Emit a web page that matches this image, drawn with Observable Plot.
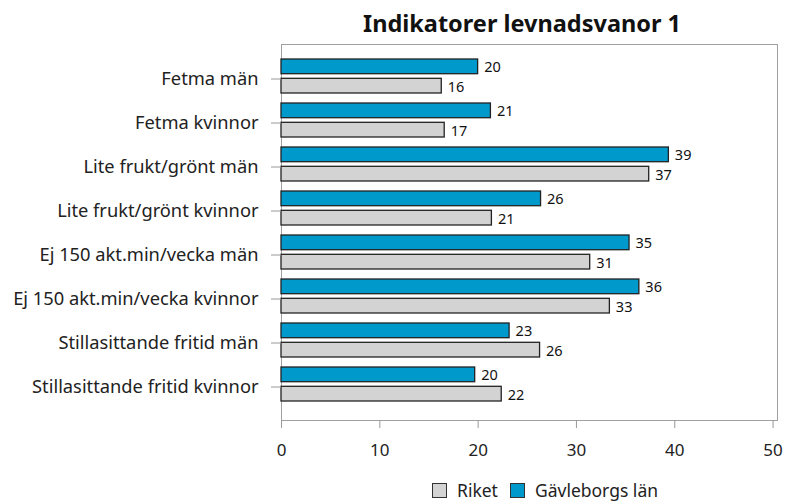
<!DOCTYPE html>
<html><head><meta charset="utf-8">
<script src="https://cdn.jsdelivr.net/npm/d3@7"></script>
<script src="https://cdn.jsdelivr.net/npm/@observablehq/plot@0.6"></script>
<style>
body{margin:0;background:#fff;font-family:"Noto Sans",sans-serif;}
#wrap{position:relative;width:785px;height:501px;overflow:hidden;}
#title{position:absolute;left:272px;width:500px;top:8px;text-align:center;font-weight:bold;font-size:23.5px;color:#111;line-height:30px;white-space:nowrap;}
#chart{position:absolute;left:0;top:36px;}
#legend{position:absolute;left:432px;top:477px;display:flex;align-items:center;font-size:17.5px;color:#222;line-height:26px;}
.sw{width:15px;height:15px;border:1.3px solid #333;box-sizing:border-box;margin-right:10px;}
</style></head><body>
<div id="wrap">
<div id="title">Indikatorer levnadsvanor 1</div>
<div id="chart"></div>
<div id="legend"></div>
</div>
<script>
const categories = ["Fetma män","Fetma kvinnor","Lite frukt/grönt män","Lite frukt/grönt kvinnor","Ej 150 akt.min/vecka män","Ej 150 akt.min/vecka kvinnor","Stillasittande fritid män","Stillasittande fritid kvinnor"];
const gavleborg = [20.0, 21.3, 39.4, 26.4, 35.4, 36.4, 23.2, 19.7];
const riket = [16.3, 16.6, 37.4, 21.4, 31.4, 33.4, 26.3, 22.4];
const xTicks = [0, 10, 20, 30, 40, 50];
const seriesNames = ["Riket", "Gävleborgs län"];
const seriesColors = ["#d3d3d3", "#0099cc"];

const blueRows = categories.map((c, i) => ({cat: c, series: "Gävleborgs län", value: gavleborg[i]}));
const grayRows = categories.map((c, i) => ({cat: c, series: "Riket", value: riket[i]}));

const chart = Plot.plot({
  width: 785, height: 424,
  marginLeft: 281, marginRight: 8, marginTop: 8, marginBottom: 40,
  style: {fontFamily: "Noto Sans", fontSize: "17px", color: "#222", background: "#fff"},
  x: {domain: [0, 50.45], axis: null},
  y: {domain: categories, paddingInner: 0.217, paddingOuter: 0.1085, insetTop: 9, insetBottom: 12.3, axis: null},
  color: {domain: seriesNames, range: seriesColors},
  marks: [
    Plot.frame({stroke: "#a0a0a0"}),
    Plot.barX(blueRows, {x: "value", y: "cat", fill: "series", stroke: "#222", strokeWidth: 1.3, insetBottom: 19.3}),
    Plot.barX(grayRows, {x: "value", y: "cat", fill: "series", stroke: "#222", strokeWidth: 1.3, insetTop: 19.3}),
    Plot.text(blueRows, {x: "value", y: "cat", text: d => String(Math.round(d.value)), dx: 6, dy: -9.5, textAnchor: "start", fontSize: 14.5, fill: "#111"}),
    Plot.text(grayRows, {x: "value", y: "cat", text: d => String(Math.round(d.value)), dx: 6, dy: 11, textAnchor: "start", fontSize: 14.5, fill: "#111"}),
    Plot.axisX({ticks: xTicks, tickSize: 8, tickPadding: 15, stroke: "#999", fill: "#222", fontSize: 17, label: null}),
    Plot.axisY({tickSize: 10, tickPadding: 13, stroke: "#999", fill: "#222", fontSize: 18.3, dy: 2.5, label: null})
  ]
});
document.getElementById("chart").appendChild(chart);

const legend = document.getElementById("legend");
seriesNames.forEach((name, i) => {
  const sw = document.createElement("span");
  sw.className = "sw";
  sw.style.background = seriesColors[i];
  const lab = document.createElement("span");
  lab.textContent = name;
  lab.style.marginRight = i === 0 ? "12px" : "0";
  legend.appendChild(sw);
  legend.appendChild(lab);
});
</script>
</body></html>
